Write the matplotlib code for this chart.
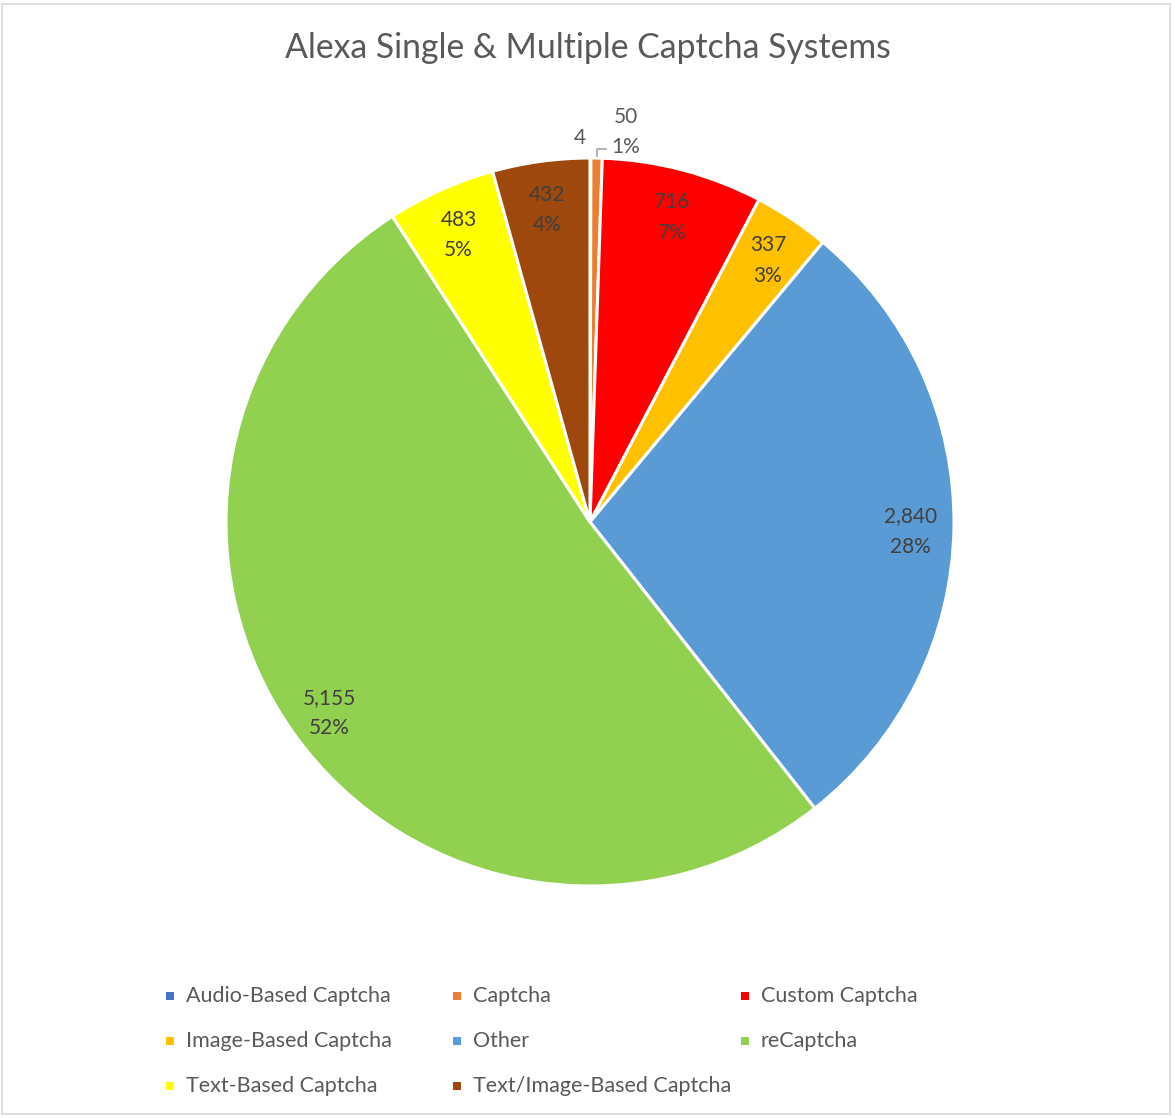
import numpy as np
import matplotlib
matplotlib.use("Agg")
import matplotlib.pyplot as plt
from matplotlib.patches import Rectangle

categories = ["Audio-Based Captcha", "Captcha", "Custom Captcha", "Image-Based Captcha",
              "Other", "reCaptcha", "Text-Based Captcha", "Text/Image-Based Captcha"]
values = [4, 50, 716, 337, 2840, 5155, 483, 432]
pct_labels = ["", "1%", "7%", "3%", "28%", "52%", "5%", "4%"]
colors = ["#4472C4", "#ED7D31", "#FF0000", "#FFC000", "#5B9BD5", "#92D050", "#FFFF00", "#9E480E"]
title = "Alexa Single & Multiple Captcha Systems"

plt.rcParams['font.family'] = ['Lato', 'DejaVu Sans']
txt = "#595959"

fig = plt.figure(figsize=(11.75, 11.18), dpi=100)
fig.patches.append(Rectangle((0.002, 0.004), 0.994, 0.992, transform=fig.transFigure,
                             fill=False, edgecolor="#D9D9D9", linewidth=1.2))

W, H = 1175, 1118
cx, cy, R = 590, 522, 364
ax = fig.add_axes([(cx - R) / W, 1 - (cy + R) / H, 2 * R / W, 2 * R / H])
wedges, _ = ax.pie(values, colors=colors, startangle=90, counterclock=False,
                   wedgeprops=dict(edgecolor="white", linewidth=2.2))
ax.set_xlim(-1, 1)
ax.set_ylim(-1, 1)
ax.set_aspect("equal")
ax.axis("off")

FS = 15
for i, (w, v, p) in enumerate(zip(wedges, values, pct_labels)):
    ang = np.deg2rad((w.theta1 + w.theta2) / 2)
    if v < 100:
        continue
    r = 0.88
    x, y = r * np.cos(ang), r * np.sin(ang) - 0.014
    label = f"{v:,}\n{p}"
    ax.text(x, y, label, ha="center", va="center", fontsize=FS, color="#404040", linespacing=1.65)

# small slices outside
ax.text(-0.027, 1.055, f"{values[0]:,}", ha="center", va="center", fontsize=FS, color=txt)
w1 = wedges[1]
a1 = np.deg2rad((w1.theta1 + w1.theta2) / 2)
ax.text(0.098, 1.072, f"{values[1]:,}\n{pct_labels[1]}", ha="center", va="center",
        fontsize=FS, color=txt, linespacing=1.6)
ax.plot([np.cos(a1) * 1.005, np.cos(a1) * 1.005, 0.045], [1.005, 1.025, 1.025],
        color="#A6A6A6", linewidth=1.2, clip_on=False)

fig.text(0.5, 1 - 48 / H, title, ha="center", va="center", fontsize=24.3, color=txt)

col_x = [170, 457, 745]
row_y = [996, 1041, 1086]
for i, (c, col) in enumerate(zip(categories, colors)):
    r, k = divmod(i, 3)
    x = col_x[k] / W
    y = 1 - row_y[r] / H
    fig.patches.append(Rectangle((x - 4 / W, y - 4 / H), 8 / W, 8 / H, transform=fig.transFigure,
                                 facecolor=col, edgecolor="none"))
    fig.text(x + 16 / W, y, c, ha="left", va="center", fontsize=15.5, color=txt)

fig.savefig("out.png", dpi=100)
